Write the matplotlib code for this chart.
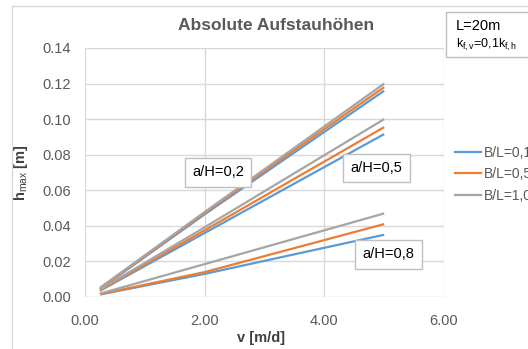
import matplotlib
matplotlib.use("Agg")
import matplotlib.pyplot as plt
from matplotlib.lines import Line2D
from matplotlib.patches import Rectangle

plt.rcParams['font.family'] = ['Liberation Sans', 'DejaVu Sans']
plt.rcParams['mathtext.fontset'] = 'custom'
plt.rcParams['mathtext.rm'] = 'Liberation Sans'
plt.rcParams['mathtext.it'] = 'Liberation Sans'
plt.rcParams['mathtext.bf'] = 'Liberation Sans:bold'

# flow velocity v [m/d]
v = [0.25, 2.0, 5.0]

# h_max [m] per a/H group and B/L ratio
h_02 = {"B/L=0,1": [0.0045, 0.0465, 0.116],
        "B/L=0,5": [0.0048, 0.0472, 0.118],
        "B/L=1,0": [0.0052, 0.0478, 0.120]}
h_05 = {"B/L=0,1": [0.0035, 0.0360, 0.0916],
        "B/L=0,5": [0.0038, 0.0375, 0.0955],
        "B/L=1,0": [0.0042, 0.0392, 0.1000]}
h_08 = {"B/L=0,1": [0.0014, 0.0130, 0.035],
        "B/L=0,5": [0.0016, 0.0140, 0.041],
        "B/L=1,0": [0.0019, 0.0185, 0.047]}

series_names = ["B/L=0,1", "B/L=0,5", "B/L=1,0"]
colors = {"B/L=0,1": "#5B9BD5", "B/L=0,5": "#ED7D31", "B/L=1,0": "#A5A5A5"}

group_labels = ["a/H=0,2", "a/H=0,5", "a/H=0,8"]
label_pos = [(2.22, 0.070), (4.87, 0.0725), (5.07, 0.024)]

fig = plt.figure(figsize=(5.28, 3.49), dpi=100)
ax = fig.add_axes([0.161, 0.149, 0.680, 0.7135])

# outer chart frame (cut off at right/bottom like the screenshot)
fig.patches.append(Rectangle((12 / 528, -0.1), 1.2, 1 - 6 / 349 + 0.1,
                             transform=fig.transFigure, fill=False,
                             edgecolor="#d9d9d9", linewidth=1))

for group in [h_02, h_05, h_08]:
    for name in series_names:
        ax.plot(v, group[name], color=colors[name], lw=1.6, solid_capstyle='butt')

for lab, (lx, ly) in zip(group_labels, label_pos):
    ax.text(lx, ly, lab, fontsize=10.5, ha='center', va='center', color='black',
            bbox=dict(boxstyle='square,pad=0.5', facecolor='white', edgecolor='#bfbfbf', lw=1))

ax.set_xlim(0, 6)
ax.set_ylim(0, 0.14)
ax.set_xticks([0, 2, 4, 6])
ax.set_xticklabels(["0.00", "2.00", "4.00", "6.00"])
ax.set_yticks([0, 0.02, 0.04, 0.06, 0.08, 0.10, 0.12, 0.14])
ax.set_yticklabels(["0.00", "0.02", "0.04", "0.06", "0.08", "0.10", "0.12", "0.14"])
ax.tick_params(length=0, labelsize=10.5, labelcolor='#595959', pad=12)
ax.tick_params(axis='y', pad=10)
for s in ax.spines.values():
    s.set_visible(False)
ax.grid(True, color='#d9d9d9', lw=1)
ax.set_axisbelow(True)

ax.set_xlabel("v [m/d]", fontsize=10.5, fontweight='bold', color='#404040')
ax.xaxis.set_label_coords(0.49, -0.135)
ax.set_ylabel(r"h$_{\mathrm{max}}$ [m]", fontsize=10.5, fontweight='bold', color='#404040')
ax.yaxis.set_label_coords(-0.153, 0.5)

fig.text(276 / 528, 1 - 26 / 349, "Absolute Aufstauhöhen", fontsize=12.5, fontweight='bold',
         color='#595959', ha='center', va='center')

# info box top right
fig.patches.append(Rectangle((446 / 528, 1 - 57 / 349), 0.3, 45 / 349,
                             transform=fig.transFigure, facecolor='white',
                             edgecolor='#bfbfbf', linewidth=1))
fig.text(456 / 528, 1 - 26 / 349, "L=20m", fontsize=10.5, ha='left', va='center')
fig.text(456 / 528, 1 - 45 / 349, r"k$_{\mathrm{f,v}}$=0,1k$_{\mathrm{f,h}}$", fontsize=9,
         ha='left', va='center')

handles = [Line2D([], [], color=colors[n], lw=1.6, label=n) for n in series_names]
fig.legend(handles=handles, loc='upper left', bbox_to_anchor=(449 / 528, 1 - 140 / 349),
           frameon=False, fontsize=10, handlelength=1.9, handletextpad=0.2,
           labelspacing=0.55, labelcolor='#595959', borderaxespad=0)

fig.savefig("out.png", dpi=100)
